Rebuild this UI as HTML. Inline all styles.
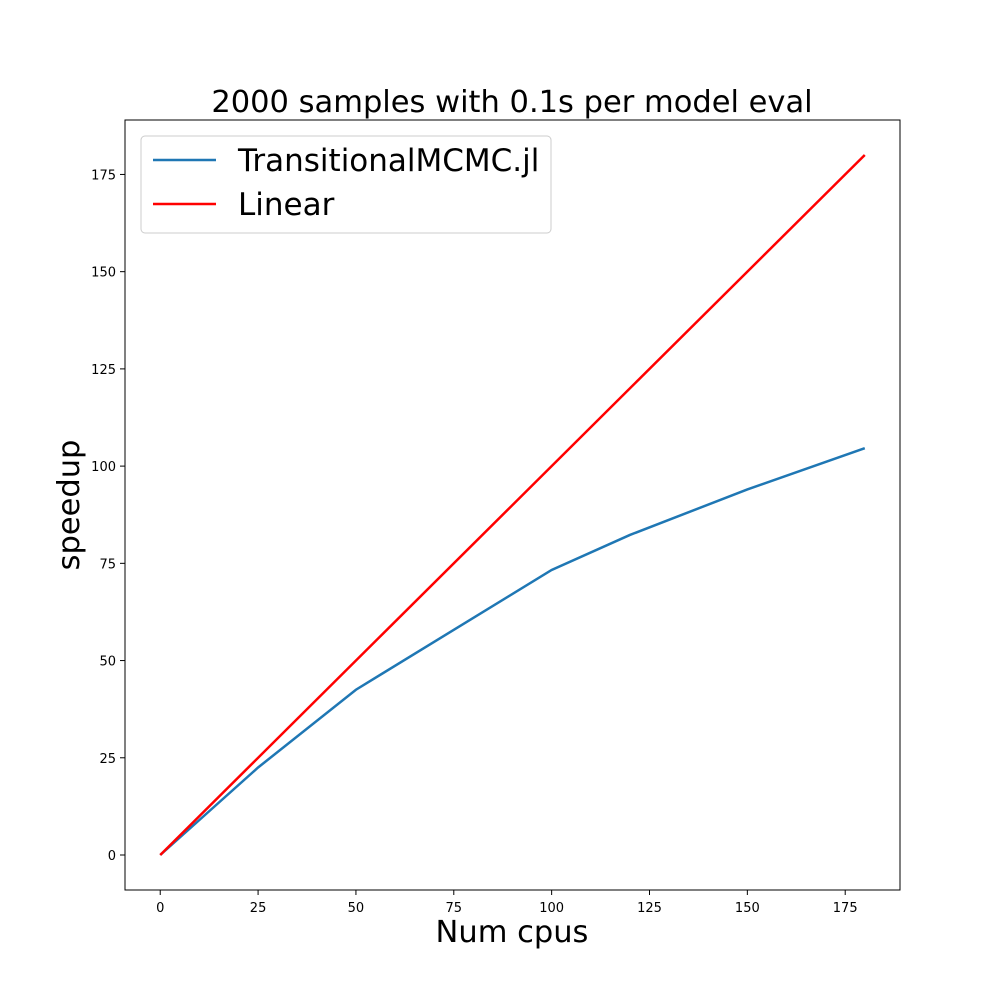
<!DOCTYPE html>
<html><head><meta charset="utf-8">
<style>
html,body{margin:0;padding:0;background:#fff;}
svg{display:block;font-family:"DejaVu Sans","Liberation Sans",sans-serif;}
</style></head>
<body>
<svg id="chart" width="1000" height="1000" viewBox="0 0 1000 1000">
<rect width="1000" height="1000" fill="#fff"/>
<text x="512" y="112" font-size="30.5" text-anchor="middle">2000 samples with 0.1s per model eval</text>
<g id="plot"></g>
<rect x="125" y="120" width="775" height="770" fill="none" stroke="#000" stroke-width="1"/>
<text x="512" y="942" font-size="30.5" text-anchor="middle">Num cpus</text>
<text transform="translate(79,505) rotate(-90)" font-size="30.5" text-anchor="middle">speedup</text>
<g>
<rect x="141" y="136" width="410" height="97" rx="4" fill="#fff" fill-opacity="0.8" stroke="#ccc"/>
<line x1="153" y1="160" x2="216" y2="160" stroke="#1f77b4" stroke-width="2.5"/>
<text x="238" y="171" font-size="31">TransitionalMCMC.jl</text>
<line x1="153" y1="204" x2="216" y2="204" stroke="#ff0000" stroke-width="2.5"/>
<text x="238" y="215" font-size="31">Linear</text>
</g>
</svg>
<script>
const xTicks = [0, 25, 50, 75, 100, 125, 150, 175];
const yTicks = [0, 25, 50, 75, 100, 125, 150, 175];
const cpus = [0, 25, 50, 100, 120, 150, 180];
const speedup = [0, 22.5, 42.5, 73.3, 82.3, 94, 104.6];
const linearX = [0, 180];
const linearY = [0, 180];

const L=125,R=900,T=120,B=890;
const xMin=-9,xMax=189,yMin=-9,yMax=189;
function sx(v){return L+(v-xMin)/(xMax-xMin)*(R-L);}
function sy(v){return B-(v-yMin)/(yMax-yMin)*(B-T);}
const NS="http://www.w3.org/2000/svg";
const g=document.getElementById('plot');
function mk(tag,attrs){const e=document.createElementNS(NS,tag);for(const k in attrs)e.setAttribute(k,attrs[k]);g.appendChild(e);return e;}
xTicks.forEach(t=>{
  const l=mk('line',{x1:sx(t),x2:sx(t),y1:B,y2:B+5,stroke:'#000'});
  
  
  const tx=mk('text',{x:sx(t),y:B+22,'font-size':13,'text-anchor':'middle'});
  tx.textContent=t;
  
  
});
yTicks.forEach(t=>{
  const l=mk('line',{x1:L-5,x2:L,y1:sy(t),y2:sy(t),stroke:'#000'});
  
  
  const tx=mk('text',{x:L-9,y:sy(t)+5,'font-size':13,'text-anchor':'end'});
  tx.textContent=t;
  
  
});
const p1=mk('polyline',{points:cpus.map((c,i)=>sx(c)+','+sy(speedup[i])).join(' '),fill:'none',stroke:'#1f77b4','stroke-width':2.5});


const p2=mk('polyline',{points:linearX.map((c,i)=>sx(c)+','+sy(linearY[i])).join(' '),fill:'none',stroke:'#ff0000','stroke-width':2.5});


</script>
</body></html>
